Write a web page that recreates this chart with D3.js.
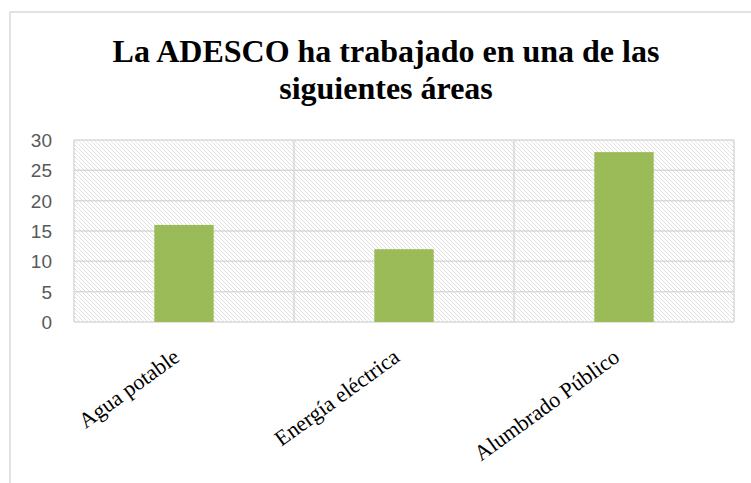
<!DOCTYPE html>
<html lang="es">
  <head>
    <meta charset="utf-8">
    <title>La ADESCO</title>
    <script src="https://cdn.jsdelivr.net/npm/d3@7"></script>
    <style>
      body { margin: 0; background: #ffffff; }
    </style>
  </head>
  <body>
    <div id='chart'></div>

    <script type='text/javascript'>
      // data
      let categories = ['Agua potable', 'Energía eléctrica', 'Alumbrado Público']
      let values = [16, 12, 28]
      let y_ticks = [0, 5, 10, 15, 20, 25, 30]
      let title_lines = ['La ADESCO ha trabajado en una de las', 'siguientes áreas']

      let full_w = 751, full_h = 483
      let margin = {top: 140, right: 17, bottom: 161, left: 74}
      let width = full_w - margin.left - margin.right
      let height = full_h - margin.top - margin.bottom

      let svg = d3.select('#chart').append('svg')
        .attr('width', full_w)
        .attr('height', full_h)

      // hatch fill of the plot area
      let pattern = svg.append('defs').append('pattern')
        .attr('id', 'hatch')
        .attr('patternUnits', 'userSpaceOnUse')
        .attr('width', 4)
        .attr('height', 4)
      pattern.append('path')
        .attr('d', 'M-1,-1 L5,5 M-1,3 L1,5 M3,-1 L5,1')
        .attr('stroke', '#dcdcdc')
        .attr('stroke-width', 0.9)

      // chart area border
      svg.append('rect')
        .attr('x', 10)
        .attr('y', 12)
        .attr('width', 800)
        .attr('height', 600)
        .attr('fill', 'none')
        .attr('stroke', '#d9d9d9')
        .attr('stroke-width', 1.5)

      // title
      svg.append('text')
        .attr('x', 386)
        .attr('y', 62)
        .attr('font-family', '"Liberation Serif", "Times New Roman", serif')
        .attr('font-size', '32px')
        .attr('font-weight', 'bold')
        .attr('text-anchor', 'middle')
        .attr('fill', '#000000')
        .selectAll('tspan')
        .data(title_lines)
        .enter()
        .append('tspan')
        .attr('x', 386)
        .attr('dy', (d, i) => i == 0 ? 0 : 37)
        .text(d => d)

      let canvas = svg.append('g')
        .attr('transform', 'translate(' + margin.left + ',' + margin.top + ')')

      let scale_x = d3.scaleBand()
        .domain(categories)
        .range([0, width])
        .padding(0)

      let scale_y = d3.scaleLinear()
        .domain([0, 30])
        .range([height, 0])

      canvas.append('rect')
        .attr('width', width)
        .attr('height', height)
        .attr('fill', 'url(#hatch)')

      // horizontal gridlines
      canvas.append('g')
        .selectAll('line')
        .data(y_ticks)
        .enter()
        .append('line')
        .attr('x1', 0)
        .attr('x2', width)
        .attr('y1', d => scale_y(d))
        .attr('y2', d => scale_y(d))
        .attr('stroke', '#d9d9d9')
        .attr('stroke-width', 1.5)

      // vertical gridlines between categories
      let edges = categories.map(c => scale_x(c)).concat([width])
      canvas.append('g')
        .selectAll('line')
        .data(edges)
        .enter()
        .append('line')
        .attr('x1', d => d)
        .attr('x2', d => d)
        .attr('y1', 0)
        .attr('y2', height)
        .attr('stroke', '#d9d9d9')
        .attr('stroke-width', 1.5)

      // bars
      let bar_w = scale_x.bandwidth() * 0.27
      canvas.selectAll('.bar')
        .data(values)
        .enter()
        .append('rect')
        .attr('class', 'bar')
        .attr('x', (d, i) => scale_x(categories[i]) + scale_x.bandwidth() / 2 - bar_w / 2)
        .attr('y', d => scale_y(d))
        .attr('width', bar_w)
        .attr('height', d => height - scale_y(d))
        .attr('fill', '#9bbb59')

      // y axis
      let y_axis = d3.axisLeft(scale_y)
        .tickValues(y_ticks)
        .tickSize(0)
        .tickPadding(22)
      let gy = canvas.append('g').call(y_axis)
      gy.select('.domain').remove()
      gy.selectAll('text')
        .attr('font-family', '"Liberation Sans", Arial, sans-serif')
        .attr('font-size', '19px')
        .attr('fill', '#595959')
        .attr('dy', '0.35em')

      // x axis labels, rotated
      let x_axis = d3.axisBottom(scale_x).tickSize(0).tickPadding(0)
      let gx = canvas.append('g')
        .attr('transform', 'translate(0,' + height + ')')
        .call(x_axis)
      gx.select('.domain').remove()
      gx.selectAll('text')
        .attr('font-family', '"Liberation Serif", "Times New Roman", serif')
        .attr('font-size', '22px')
        .attr('fill', '#000000')
        .attr('text-anchor', 'end')
        .attr('y', 0)
        .attr('dy', 0)
        .attr('transform', 'translate(-3,38) rotate(-36)')
    </script>
  </body>
</html>
